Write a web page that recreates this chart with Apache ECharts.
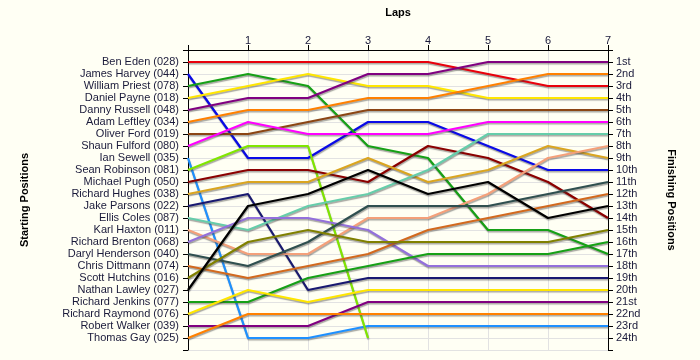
<!DOCTYPE html>
<html><head><meta charset="utf-8">
<script src="https://cdn.jsdelivr.net/npm/echarts@6/dist/echarts.min.js"></script>
<style>html,body{margin:0;padding:0;background:#fffff4;}#c{width:700px;height:360px;}</style>
</head><body><div id="c"></div>
<script>
const laps = [0, 1, 2, 3, 4, 5, 6, 7];
const lapLabels = ['', '1', '2', '3', '4', '5', '6', '7'];
const drivers = ['Ben Eden (028)','James Harvey (044)','William Priest (078)','Daniel Payne (018)','Danny Russell (048)','Adam Leftley (034)','Oliver Ford (019)','Shaun Fulford (080)','Ian Sewell (035)','Sean Robinson (081)','Michael Pugh (050)','Richard Hughes (038)','Jake Parsons (022)','Ellis Coles (087)','Karl Haxton (011)','Richard Brenton (068)','Daryl Henderson (040)','Chris Dittmann (074)','Scott Hutchins (016)','Nathan Lawley (027)','Richard Jenkins (077)','Richard Raymond (076)','Robert Walker (039)','Thomas Gay (025)'];
const finishLabels = ['1st','2nd','3rd','4th','5th','6th','7th','8th','9th','10th','11th','12th','13th','14th','15th','16th','17th','18th','19th','20th','21st','22nd','23rd','24th'];
// positions at lap 0 (start) .. lap 7
const benEden        = [1, 1, 1, 1, 1, 2, 3, 3];
const jamesHarvey    = [2, 9, 9, 6, 6, 8, 10, 10];
const williamPriest  = [3, 2, 3, 8, 9, 15, 15, 17];
const danielPayne    = [4, 3, 2, 3, 3, 4, 4, 4];
const dannyRussell   = [5, 4, 4, 2, 2, 1, 1, 1];
const adamLeftley    = [6, 5, 5, 4, 4, 3, 2, 2];
const oliverFord     = [7, 7, 6, 5, 5, 5, 5, 5];
const shaunFulford   = [8, 6, 7, 7, 7, 6, 6, 6];
const ianSewell      = [9, 24, 24, 23, 23, 23, 23, 23];
const seanRobinson   = [10, 8, 8, 24];
const michaelPugh    = [11, 10, 10, 11, 8, 9, 11, 14];
const richardHughes  = [12, 11, 11, 9, 11, 10, 8, 9];
const jakeParsons    = [13, 12, 20, 19, 19, 19, 19, 19];
const ellisColes     = [14, 15, 13, 12, 10, 7, 7, 7];
const karlHaxton     = [15, 17, 17, 14, 14, 12, 9, 8];
const richardBrenton = [16, 14, 14, 15, 18, 18, 18, 18];
const darylHenderson = [17, 18, 16, 13, 13, 13, 12, 11];
const chrisDittmann  = [18, 19, 18, 17, 15, 14, 13, 12];
const scottHutchins  = [19, 16, 15, 16, 16, 16, 16, 15];
const nathanLawley   = [20, 13, 12, 10, 12, 11, 14, 13];
const richardJenkins = [21, 21, 19, 18, 17, 17, 17, 16];
const richardRaymond = [22, 20, 21, 20, 20, 20, 20, 20];
const robertWalker   = [23, 23, 23, 21, 21, 21, 21, 21];
const thomasGay      = [24, 22, 22, 22, 22, 22, 22, 22];

const allPositions = [benEden, jamesHarvey, williamPriest, danielPayne, dannyRussell, adamLeftley, oliverFord, shaunFulford, ianSewell, seanRobinson, michaelPugh, richardHughes, jakeParsons, ellisColes, karlHaxton, richardBrenton, darylHenderson, chrisDittmann, scottHutchins, nathanLawley, richardJenkins, richardRaymond, robertWalker, thomasGay];
const colors = ['#e8000b','#0a0ae6','#16a016','#ffe600','#800080','#ff8000','#8b4513','#ff00ff','#1e90ff','#80e600','#8b0000','#daa520','#191970','#66cdaa','#f4a07a','#9370db','#2f4f4f','#d2691e','#808000','#000000','#16a016','#ffe600','#800080','#ff8000'];

const labelColor = '#1a1a3a';
const font = 'Liberation Sans, Arial, sans-serif';

const series = allPositions.map((pos, i) => ({
  type: 'line',
  name: drivers[i],
  data: pos.map((p, k) => [laps[k], p]),
  showSymbol: false,
  symbol: 'none',
  yAxisIndex: 0,
  animation: false,
  lineStyle: { color: colors[i], width: 2.2, shadowColor: 'rgba(60,60,60,0.45)', shadowOffsetX: 0.5, shadowOffsetY: 1.5, shadowBlur: 1 },
  z: 3
}));

const chart = echarts.init(document.getElementById('c'));
chart.setOption({
  backgroundColor: '#fffff4',
  animation: false,
  grid: { left: 188, right: 92, top: 50, bottom: 10 },
  xAxis: {
    type: 'value', position: 'top', min: 0, max: 7, interval: 1,
    name: 'Laps', nameLocation: 'middle', nameGap: 32,
    nameTextStyle: { fontFamily: font, fontWeight: 'bold', fontSize: 11, color: '#000' },
    axisLine: { show: true, lineStyle: { color: '#000', width: 1 } },
    axisTick: { show: true, length: 5, lineStyle: { color: '#000' } },
    axisLabel: { fontFamily: font, fontSize: 11, color: labelColor, margin: 4, formatter: v => lapLabels[Math.round(v)] || '' },
    splitLine: { show: true, lineStyle: { color: '#e2e2e2', width: 1 } }
  },
  yAxis: [
    {
      type: 'value', position: 'left', inverse: true, min: 0, max: 25, interval: 1,
      name: 'Starting Positions', nameLocation: 'middle', nameGap: 158, nameRotate: 90,
      nameTextStyle: { fontFamily: font, fontWeight: 'bold', fontSize: 11, color: '#000' },
      axisLine: { show: true, lineStyle: { color: '#000', width: 1 } },
      axisTick: { show: true, length: 5, lineStyle: { color: '#000' } },
      axisLabel: { fontFamily: font, fontSize: 11, color: labelColor, margin: 9, hideOverlap: false, formatter: v => drivers[Math.round(v) - 1] || '' },
      splitLine: { show: true, lineStyle: { color: '#e2e2e2', width: 1 } }
    },
    {
      type: 'value', position: 'right', inverse: true, min: 0, max: 25, interval: 1,
      name: 'Finishing Positions', nameLocation: 'middle', nameGap: 58, nameRotate: -90,
      nameTextStyle: { fontFamily: font, fontWeight: 'bold', fontSize: 11, color: '#000' },
      axisLine: { show: true, lineStyle: { color: '#000', width: 1 } },
      axisTick: { show: true, length: 5, lineStyle: { color: '#000' } },
      axisLabel: { fontFamily: font, fontSize: 11, color: labelColor, margin: 8, hideOverlap: false, formatter: v => finishLabels[Math.round(v) - 1] || '' },
      splitLine: { show: false }
    }
  ],
  series: series
});
</script>
</body></html>
